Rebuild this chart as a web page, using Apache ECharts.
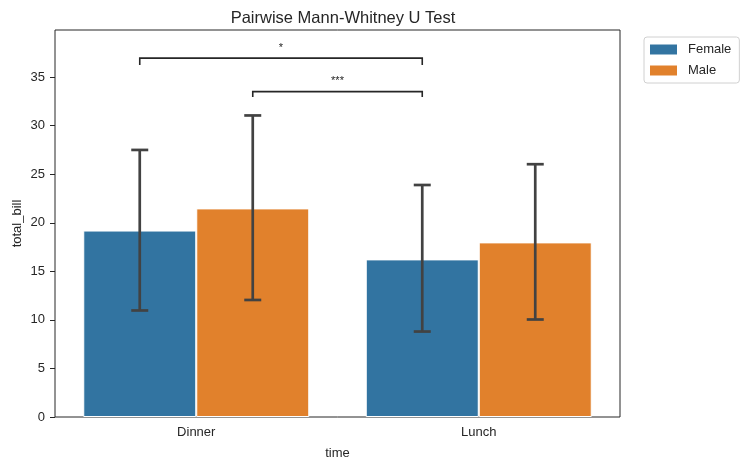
<!DOCTYPE html>
<html>
<head>
<meta charset="utf-8">
<script src="https://cdn.jsdelivr.net/npm/echarts@6/dist/echarts.min.js"></script>
<style>
  html, body { margin: 0; padding: 0; background: #fff; }
  #chart { width: 750px; height: 470px; }
</style>
</head>
<body>
<div id="chart"></div>
<script>
const categories = ['Dinner', 'Lunch']
const seriesNames = ['Female', 'Male']
const femaleMean = [19.2, 16.23]
const maleMean = [21.48, 17.98]
const femaleLow = [10.97, 8.8]
const femaleHigh = [27.5, 23.89]
const maleLow = [12.05, 10.04]
const maleHigh = [31.05, 26.03]
const yTicks = [0, 5, 10, 15, 20, 25, 30, 35]
// brackets: [category, hue index] pairs, height of bar, tick depth, label
const brackets = [
  { from: [0, 0], to: [1, 0], y: 36.95, drop: 0.7, label: '*' },
  { from: [0, 1], to: [1, 0], y: 33.5, drop: 0.55, label: '***' },
]

const colors = ['#3274a1', '#e1812c']
const font = '"Liberation Sans", Arial, sans-serif'
const chart = echarts.init(document.getElementById('chart'))

// offset inside a category for hue i (2 bars filling 80% of the band)
const hueOffset = (api, i) => api.size([1, 0])[0] * (i === 0 ? -0.2 : 0.2)

const errData = []
categories.forEach((c, ci) => {
  errData.push([ci, femaleLow[ci], femaleHigh[ci], 0])
  errData.push([ci, maleLow[ci], maleHigh[ci], 1])
})

const bracketData = brackets.map(b => [b.from[0], b.from[1], b.to[0], b.to[1], b.y, b.drop])

const option = {
  animation: false,
  textStyle: { fontFamily: font },
  title: {
    text: 'Pairwise Mann-Whitney U Test',
    left: 338, top: 5, textAlign: 'center',
    textStyle: { fontSize: 16.5, fontWeight: 'normal', color: '#262626', fontFamily: font },
  },
  legend: {
    left: 644, top: 37,
    orient: 'vertical',
    data: seriesNames,
    itemWidth: 27, itemHeight: 10, itemGap: 8,
    padding: [6, 8, 6, 6],
    borderColor: '#d0d0d0', borderWidth: 1, borderRadius: 3,
    icon: 'rect',
    itemStyle: { borderWidth: 0 },
    textStyle: { fontSize: 13, color: '#262626', fontFamily: font, padding: [0, 0, 0, 6] },
  },
  grid: {
    left: 55, right: 130, top: 30, bottom: 53,
    outerBoundsMode: 'none',
    show: true, borderColor: '#262626', borderWidth: 1,
  },
  xAxis: {
    type: 'category',
    data: categories,
    name: 'time', nameLocation: 'middle', nameGap: 30,
    nameMoveOverlap: false,
    nameTextStyle: { fontSize: 13, color: '#262626' },
    axisLine: { show: false },
    axisTick: { alignWithLabel: true, length: 5, lineStyle: { color: '#262626' } },
    axisLabel: { fontSize: 13, color: '#262626', margin: 9 },
  },
  yAxis: {
    type: 'value',
    min: 0, max: 39.85, interval: 5,
    name: 'total_bill', nameLocation: 'middle', nameGap: 31,
    nameMoveOverlap: false,
    nameTextStyle: { fontSize: 13, color: '#262626' },
    splitLine: { show: false },
    axisLine: { show: false },
    axisTick: { show: true, length: 5, customValues: yTicks, lineStyle: { color: '#262626' } },
    axisLabel: { fontSize: 13, color: '#262626', margin: 10, customValues: yTicks },
  },
  series: [
    {
      name: 'Female', type: 'bar', data: femaleMean,
      barGap: '0%', barCategoryGap: '20%',
      itemStyle: { color: colors[0], borderColor: '#ffffff', borderWidth: 1 },
    },
    {
      name: 'Male', type: 'bar', data: maleMean,
      itemStyle: { color: colors[1], borderColor: '#ffffff', borderWidth: 1 },
    },
    {
      type: 'custom', name: 'err', data: errData, z: 5,
      renderItem: (params, api) => {
        const ci = api.value(0)
        const off = hueOffset(api, api.value(3))
        const lo = api.coord([ci, api.value(1)])
        const hi = api.coord([ci, api.value(2)])
        const x = lo[0] + off
        const cap = 8.5
        const style = { stroke: '#424242', lineWidth: 2.7, lineCap: 'butt' }
        return {
          type: 'group',
          children: [
            { type: 'line', shape: { x1: x, y1: lo[1], x2: x, y2: hi[1] }, style },
            { type: 'line', shape: { x1: x - cap, y1: lo[1], x2: x + cap, y2: lo[1] }, style },
            { type: 'line', shape: { x1: x - cap, y1: hi[1], x2: x + cap, y2: hi[1] }, style },
          ],
        }
      },
    },
    {
      type: 'custom', name: 'brackets', data: bracketData, z: 6,
      renderItem: (params, api) => {
        const b = brackets[params.dataIndex]
        const p1 = api.coord([api.value(0), api.value(4)])
        const p2 = api.coord([api.value(2), api.value(4)])
        const bot = api.coord([0, api.value(4) - api.value(5)])[1]
        const x1 = p1[0] + hueOffset(api, api.value(1))
        const x2 = p2[0] + hueOffset(api, api.value(3))
        const y = p1[1]
        return {
          type: 'group',
          children: [
            {
              type: 'polyline',
              shape: { points: [[x1, bot], [x1, y], [x2, y], [x2, bot]] },
              style: { stroke: '#262626', lineWidth: 1.6, fill: 'none' },
            },
            {
              type: 'text',
              style: {
                text: b.label, x: (x1 + x2) / 2, y: y - 5,
                align: 'center', verticalAlign: 'bottom',
                fontSize: 11, fill: '#262626', fontFamily: font,
              },
            },
          ],
        }
      },
    },
  ],
}

chart.setOption(option)
</script>
</body>
</html>
